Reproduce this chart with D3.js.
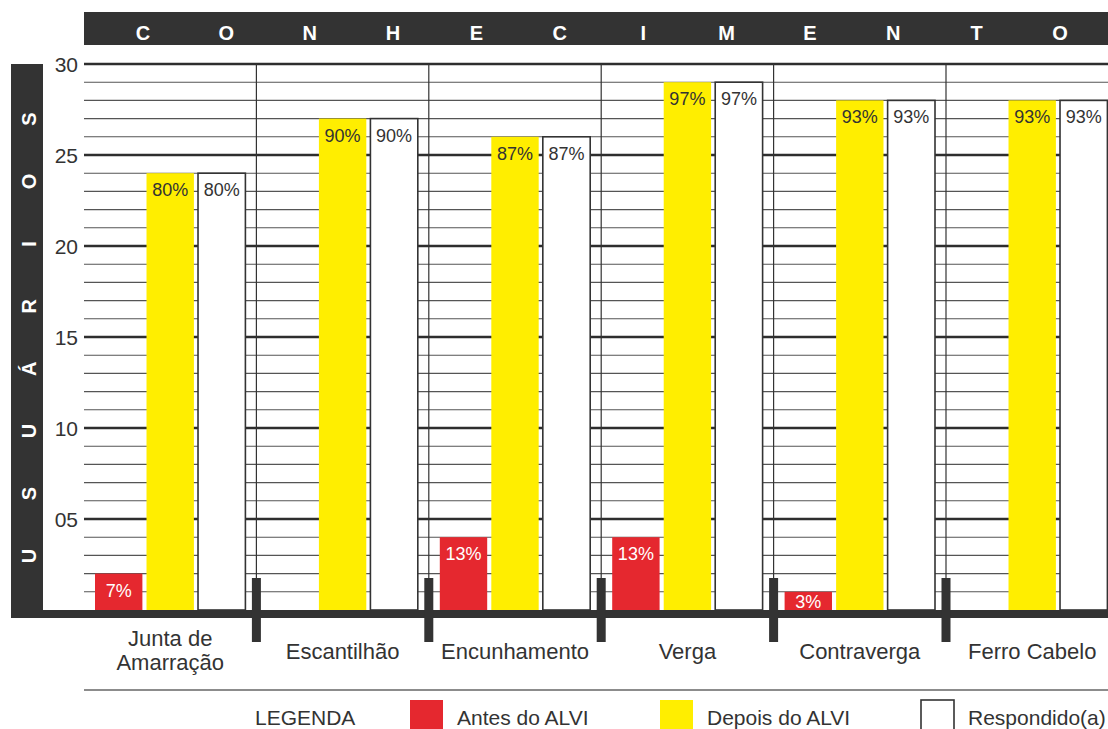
<!DOCTYPE html>
<html>
<head>
<meta charset="utf-8">
<script src="https://cdn.jsdelivr.net/npm/d3@7"></script>
<style>
  html, body { margin: 0; padding: 0; background: #fff; }
  svg { display: block; font-family: "Liberation Sans", Arial, sans-serif; }
</style>
</head>
<body>
<svg id="chart" width="1108" height="729"></svg>
<script>
// ---------- data ----------
const categories = ["Junta de Amarração", "Escantilhão", "Encunhamento", "Verga", "Contraverga", "Ferro Cabelo"];
const categoryLines = [["Junta de", "Amarração"], ["Escantilhão"], ["Encunhamento"], ["Verga"], ["Contraverga"], ["Ferro Cabelo"]];
const series = ["Antes do ALVI", "Depois do ALVI", "Respondido(a)"];
const antes = [2, 0, 4, 4, 1, 0];
const depois = [24, 27, 26, 29, 28, 28];
const respondido = [24, 27, 26, 29, 28, 28];
const totalUsers = 30;
const yTicks = [5, 10, 15, 20, 25, 30];
const yTickLabels = ["05", "10", "15", "20", "25", "30"];
const topTitle = "CONHECIMENTO";
const sideTitle = "USUÁRIOS";
const legendTitle = "LEGENDA";

// ---------- styling ----------
const dark = "#333333";
const colors = ["#e5282f", "#ffee00", "#ffffff"];
const textColors = ["#ffffff", "#333333", "#333333"];

const svg = d3.select("#chart");
const plotLeft = 84, groupW = 172.4;
const y = d3.scaleLinear().domain([0, 30]).range([610, 64]);
const x = d3.scaleBand().domain(categories).range([plotLeft, plotLeft + groupW * categories.length]).padding(0);
const xi = d3.scaleBand().domain(series).range([11, x.bandwidth() - 11]).paddingInner(0.08).paddingOuter(0);

const rows = categories.map((c, i) => ({ cat: c, lines: categoryLines[i], vals: [antes[i], depois[i], respondido[i]] }));

// top banner
svg.append("rect").attr("x", plotLeft).attr("y", 12).attr("width", 1108 - plotLeft).attr("height", 33).attr("fill", dark);
const topLetters = Array.from(topTitle).map((ch, i) => ({ ch, i }));
const tx = d3.scalePoint().domain(topLetters.map(d => d.i)).range([143, 1060]);
svg.append("g").selectAll("text").data(topLetters).join("text")
  .attr("x", d => tx(d.i)).attr("y", 40).attr("text-anchor", "middle")
  .attr("fill", "#fff").attr("font-size", 20).attr("font-weight", "bold")
  .text(d => d.ch);

// left banner
svg.append("rect").attr("x", 11).attr("y", 64).attr("width", 32).attr("height", 554).attr("fill", dark);
const sideLetters = Array.from(sideTitle).map((ch, i) => ({ ch, i }));
const sy = d3.scalePoint().domain(sideLetters.map(d => d.i)).range([556, 119]);
svg.append("g").selectAll("text").data(sideLetters).join("text")
  .attr("transform", d => `translate(36,${sy(d.i)}) rotate(-90)`)
  .attr("text-anchor", "middle")
  .attr("fill", "#fff").attr("font-size", 20).attr("font-weight", "bold")
  .text(d => d.ch);

// gridlines
const gridVals = d3.range(1, 31);
svg.append("g").selectAll("line").data(gridVals).join("line")
  .attr("x1", plotLeft).attr("x2", 1108)
  .attr("y1", d => y(d)).attr("y2", d => y(d))
  .attr("stroke", d => d % 5 === 0 ? "#2e2e2e" : "#555")
  .attr("stroke-width", d => d % 5 === 0 ? 2.6 : 1.1);

// y tick labels
svg.append("g").selectAll("text").data(yTicks).join("text")
  .attr("x", 78).attr("y", d => y(d)).attr("dy", "0.36em")
  .attr("text-anchor", "end").attr("font-size", 21).attr("fill", dark)
  .text((d, i) => yTickLabels[i]);

// thin vertical separators
const seps = categories.slice(1).map(c => x(c));
svg.append("g").selectAll("line").data(seps).join("line")
  .attr("x1", d => d).attr("x2", d => d).attr("y1", y(30)).attr("y2", y(0))
  .attr("stroke", dark).attr("stroke-width", 1.2);

// bars
const groups = svg.append("g").selectAll("g").data(rows).join("g")
  .attr("transform", d => `translate(${x(d.cat)},0)`);
groups.each(function(d) {
  const g = d3.select(this);
  d.vals.forEach((v, k) => {
    if (v <= 0) return;
    const bx = xi(series[k]);
    g.append("rect")
      .attr("x", bx).attr("y", y(v)).attr("width", xi.bandwidth()).attr("height", y(0) - y(v))
      .attr("fill", colors[k])
      .attr("stroke", k === 2 ? dark : "none").attr("stroke-width", 1.6);
    const cy = Math.min(y(v) + 16.5, y(v) + (y(0) - y(v)) / 2 + 1);
    g.append("text")
      .attr("x", bx + xi.bandwidth() / 2).attr("y", cy).attr("dy", "0.36em")
      .attr("text-anchor", "middle").attr("font-size", 18).attr("fill", textColors[k])
      .text(Math.round(v / totalUsers * 100) + "%");
  });
});

// baseline
svg.append("rect").attr("x", 11).attr("y", 610).attr("width", 1108 - 11).attr("height", 8).attr("fill", dark);

// thick separator ticks
svg.append("g").selectAll("rect").data(seps).join("rect")
  .attr("x", d => d - 4.5).attr("y", 578).attr("width", 9).attr("height", 64).attr("fill", dark);

// category labels
const lab = svg.append("g").selectAll("text").data(rows).join("text")
  .attr("text-anchor", "middle").attr("font-size", 22).attr("fill", dark)
  .attr("x", d => x(d.cat) + x.bandwidth() / 2);
lab.each(function(d) {
  const t = d3.select(this);
  const cx = x(d.cat) + x.bandwidth() / 2;
  if (d.lines.length === 1) {
    t.append("tspan").attr("x", cx).attr("y", 659).text(d.lines[0]);
  } else {
    d.lines.forEach((ln, j) => t.append("tspan").attr("x", cx).attr("y", 646 + j * 24).text(ln));
  }
});

// legend
svg.append("line").attr("x1", plotLeft).attr("x2", 1108).attr("y1", 690).attr("y2", 690)
  .attr("stroke", "#666").attr("stroke-width", 1.5);
svg.append("text").attr("x", 255).attr("y", 725).attr("font-size", 21).attr("fill", dark).text(legendTitle);
const legendX = [410, 660, 921];
series.forEach((s, k) => {
  svg.append("rect").attr("x", legendX[k]).attr("y", 700).attr("width", 33).attr("height", 34)
    .attr("fill", colors[k]).attr("stroke", k === 2 ? dark : "none").attr("stroke-width", 1.6);
  svg.append("text").attr("x", legendX[k] + 47).attr("y", 725).attr("font-size", 21).attr("fill", dark).text(s);
});
</script>
</body>
</html>
